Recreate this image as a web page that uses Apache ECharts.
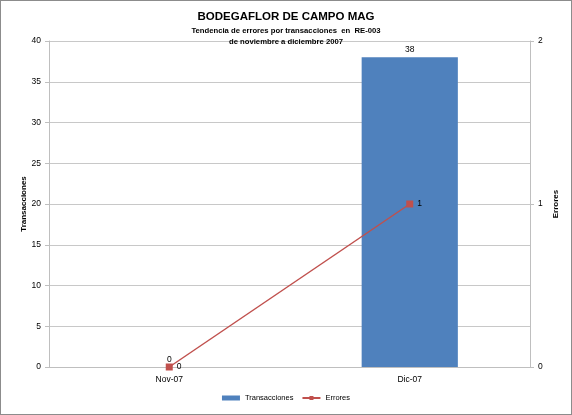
<!DOCTYPE html>
<html><head><meta charset="utf-8">
<script src="https://cdn.jsdelivr.net/npm/echarts@6/dist/echarts.min.js"></script>
<style>
html,body{margin:0;padding:0;background:#fff;}
#c{width:572px;height:415px;box-sizing:border-box;border:1px solid #8c8c8c;}
</style></head>
<body><div id="c"></div>
<script>
const categories = ['Nov-07', 'Dic-07'];
const transacciones = [0, 38];
const errores = [0, 1];
const leftTicks = {min: 0, max: 40, interval: 5};
const rightTicks = {min: 0, max: 2, interval: 1};

const font = 'Liberation Sans, Arial, sans-serif';
const chart = echarts.init(document.getElementById('c'));
chart.setOption({
  animation: false,
  textStyle: {fontFamily: font},
  title: [
    {text: 'BODEGAFLOR DE CAMPO MAG', left: 'center', top: 5,
     textStyle: {fontSize: 11.5, fontWeight: 'bold', color: '#000', fontFamily: font}},
    {text: 'Tendencia de errores por transacciones  en  RE-003\nde noviembre a diciembre 2007', left: 'center', top: 19,
     textStyle: {fontSize: 7.7, fontWeight: 'bold', color: '#000', lineHeight: 11, fontFamily: font}}
  ],
  grid: {left: 48, right: 41, top: 40, bottom: 47, containLabel: false},
  legend: {
    bottom: 7, left: 'center', itemGap: 8, itemWidth: 18, itemHeight: 5,
    textStyle: {fontSize: 7.5, color: '#000', fontFamily: font},
    data: [
      {name: 'Transacciones', icon: 'rect'},
      {name: 'Errores'}
    ]
  },
  xAxis: {
    type: 'category', data: categories,
    axisLine: {lineStyle: {color: '#bfbfbf', width: 1}},
    axisTick: {show: false},
    axisLabel: {fontSize: 8.5, color: '#000', margin: 8, fontFamily: font}
  },
  yAxis: [
    {type: 'value', min: leftTicks.min, max: leftTicks.max, interval: leftTicks.interval,
     name: 'Transacciones', nameLocation: 'middle', nameGap: 21, nameRotate: 90, nameMoveOverlap: false,
     nameTextStyle: {fontSize: 8, fontWeight: 'bold', color: '#000', fontFamily: font},
     axisLine: {show: true, lineStyle: {color: '#bfbfbf'}},
     axisTick: {show: true, length: 4, lineStyle: {color: '#bfbfbf'}},
     axisLabel: {fontSize: 8.5, color: '#000', margin: 8, fontFamily: font},
     splitLine: {show: true, lineStyle: {color: '#c8c8c8', width: 1}}},
    {type: 'value', min: rightTicks.min, max: rightTicks.max, interval: rightTicks.interval,
     name: 'Errores', nameLocation: 'middle', nameGap: 22, nameRotate: 90, nameMoveOverlap: false,
     nameTextStyle: {fontSize: 8, fontWeight: 'bold', color: '#000', fontFamily: font},
     axisLine: {show: true, lineStyle: {color: '#bfbfbf'}},
     axisTick: {show: true, length: 4, lineStyle: {color: '#bfbfbf'}},
     axisLabel: {fontSize: 8.5, color: '#000', margin: 8, fontFamily: font},
     splitLine: {show: false}}
  ],
  series: [
    {name: 'Transacciones', type: 'bar', yAxisIndex: 0, data: transacciones,
     barWidth: '40%',
     itemStyle: {color: '#4f81bd'},
     label: {show: true, position: 'top', fontSize: 8.5, color: '#000', distance: 3, fontFamily: font}},
    {name: 'Errores', type: 'line', yAxisIndex: 1, data: errores,
     symbol: 'rect', symbolSize: 7,
     lineStyle: {color: '#c0504d', width: 1.5},
     itemStyle: {color: '#c0504d'},
     label: {show: true, position: 'right', fontSize: 8.5, color: '#000', distance: 4, fontFamily: font}}
  ]
});
</script></body></html>
